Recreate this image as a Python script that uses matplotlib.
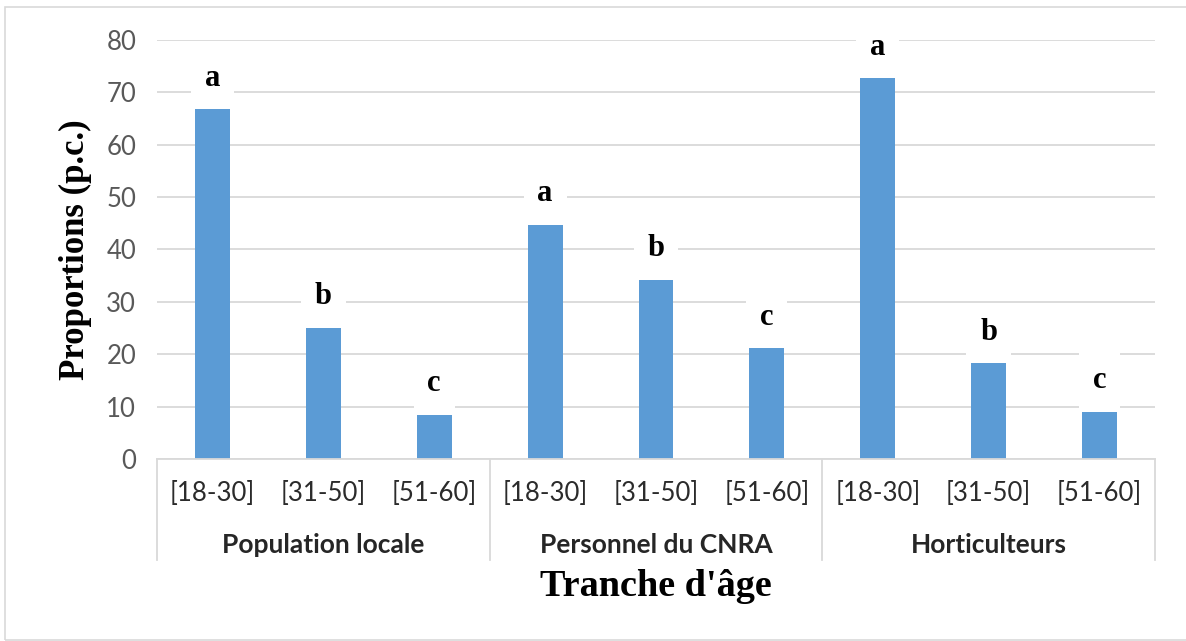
import matplotlib
matplotlib.use("Agg")
import matplotlib.pyplot as plt
from matplotlib.patches import Rectangle
from matplotlib.lines import Line2D
from matplotlib.transforms import blended_transform_factory

# ---- data -------------------------------------------------------------
groups = ["Population locale", "Personnel du CNRA", "Horticulteurs"]
age_classes = ["[18-30]", "[31-50]", "[51-60]"]
pop_locale = [66.8, 25.0, 8.4]
personnel_cnra = [44.7, 34.2, 21.1]
horticulteurs = [72.7, 18.3, 9.0]
letters = ["a", "b", "c"]
y_ticks = [0, 10, 20, 30, 40, 50, 60, 70, 80]

series = [pop_locale, personnel_cnra, horticulteurs]

# ---- style ------------------------------------------------------------
BAR = "#5B9BD5"
GRID = "#D9D9D9"
TICK_COLOR = "#595959"
SANS = ["Lato", "DejaVu Sans"]
SERIF = ["Liberation Serif", "DejaVu Serif"]

W, H, DPI = 1186, 641, 100
fig = plt.figure(figsize=(W / DPI, H / DPI), dpi=DPI)
fig.patch.set_facecolor("white")

# chart-area border
fig.patches.append(Rectangle((5 / W, 1 / H), 1.2, (H - 8) / H,
                             transform=fig.transFigure, fill=False,
                             edgecolor=GRID, linewidth=1.2))

L, R, B, T = 157 / W, 1155 / W, 1 - 459 / H, 1 - 40 / H
ax = fig.add_axes([L, B, R - L, T - B])

n_per = len(age_classes)
xs, heights, labels = [], [], []
for gi, vals in enumerate(series):
    for ci, v in enumerate(vals):
        xs.append(gi * n_per + ci)
        heights.append(v)
        labels.append(letters[ci])

ax.bar(xs, heights, width=0.315, color=BAR, zorder=3)

for x, h, lab in zip(xs, heights, labels):
    ax.annotate(lab, (x, h), xytext=(0, 17), textcoords="offset points",
                ha="center", va="baseline", fontsize=22, fontweight="bold",
                family=SERIF, color="black", zorder=5,
                bbox=dict(boxstyle="square,pad=0.45", fc="white", ec="none"))

ax.set_xlim(-0.5, len(xs) - 0.5)
ax.set_ylim(0, 80)
ax.set_yticks(y_ticks)
ax.set_yticklabels([str(t) for t in y_ticks], family=SANS, fontsize=18.5,
                   color=TICK_COLOR)
ax.tick_params(axis="y", length=0, pad=15)
ax.tick_params(axis="x", length=0, labelbottom=False)
ax.set_xticks([])
ax.yaxis.grid(True, color=GRID, linewidth=1.3, zorder=0)
ax.set_axisbelow(True)
for s in ["top", "right", "left"]:
    ax.spines[s].set_visible(False)
ax.spines["bottom"].set_color(GRID)
ax.spines["bottom"].set_linewidth(1.3)
ax.spines["bottom"].set_zorder(4)

# multi-level category axis
trans = blended_transform_factory(ax.transData, ax.transAxes)
for x, lab in zip(xs, age_classes * len(groups)):
    ax.text(x, -0.0835, lab, transform=trans, ha="center", va="center",
            family=SANS, fontsize=18.5, color="#2b2b2b")
for gi, g in enumerate(groups):
    ax.text(gi * n_per + (n_per - 1) / 2, -0.205, g, transform=trans,
            ha="center", va="center", family=SANS, fontsize=19,
            fontweight="bold", color="#262626")
for b in range(len(groups) + 1):
    xb = b * n_per - 0.5
    ax.add_line(Line2D([xb, xb], [0, -0.241], transform=trans, color=GRID,
                       linewidth=1.3, clip_on=False))

ax.set_ylabel("Proportions (p.c.)", family=SERIF, fontsize=25,
              fontweight="bold", labelpad=10)
fig.text((157 + 1155) / 2 / W, 1 - 586 / H, "Tranche d'âge", family=SERIF,
         fontsize=27.5, fontweight="bold", ha="center", va="center")

fig.savefig("out.png", dpi=DPI)
